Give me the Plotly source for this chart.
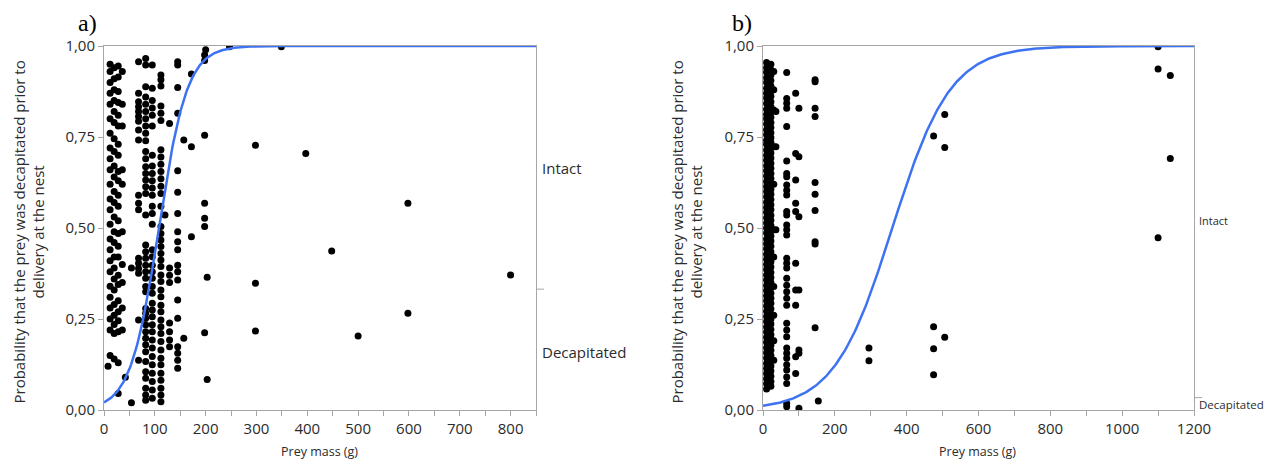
import numpy as np
import plotly.graph_objects as go

# ---------------- panel a: prey mass (g) vs. plotted position ----------------
a_mass = [8, 12, 20, 28, 36, 42, 54, 68, 82, 95, 112, 120, 129, 145, 157, 172,
          198, 200, 203, 247, 298, 349, 397, 448, 500, 598, 800]
a_prob = [
    [0.12],
    [0.95, 0.93, 0.90, 0.87, 0.84, 0.80, 0.76, 0.72, 0.69, 0.66, 0.62, 0.58, 0.55, 0.51,
     0.47, 0.44, 0.41, 0.38, 0.34, 0.31, 0.28, 0.25, 0.22, 0.15],
    [0.94, 0.91, 0.88, 0.85, 0.82, 0.79, 0.745, 0.71, 0.67, 0.64, 0.60, 0.57, 0.53, 0.49,
     0.46, 0.42, 0.39, 0.36, 0.33, 0.29, 0.26, 0.235, 0.21, 0.14],
    [0.945, 0.915, 0.875, 0.845, 0.81, 0.78, 0.73, 0.70, 0.655, 0.63, 0.59, 0.56, 0.52,
     0.485, 0.45, 0.42, 0.37, 0.345, 0.30, 0.27, 0.245, 0.215, 0.13, 0.045],
    [0.93, 0.84, 0.78, 0.66, 0.62, 0.49, 0.40, 0.35, 0.28, 0.22],
    [0.09],
    [0.39, 0.02],
    [0.957, 0.87, 0.847, 0.833, 0.82, 0.806, 0.793, 0.769, 0.742, 0.59, 0.568, 0.55,
     0.417, 0.403, 0.389, 0.376, 0.247, 0.137],
    [0.966, 0.948, 0.888, 0.86, 0.84, 0.82, 0.80, 0.78, 0.76, 0.74, 0.71, 0.69, 0.668,
     0.65, 0.632, 0.613, 0.595, 0.536, 0.453, 0.435, 0.417, 0.398, 0.38, 0.362, 0.339,
     0.325, 0.279, 0.266, 0.252, 0.234, 0.215, 0.197, 0.179, 0.16, 0.133, 0.105, 0.087,
     0.06, 0.041, 0.027],
    [0.948, 0.884, 0.85, 0.83, 0.81, 0.78, 0.70, 0.67, 0.65, 0.63, 0.61, 0.59, 0.56, 0.54,
     0.51, 0.44, 0.421, 0.398, 0.38, 0.362, 0.339, 0.321, 0.293, 0.275, 0.256, 0.234,
     0.215, 0.192, 0.17, 0.147, 0.124, 0.101, 0.078, 0.055, 0.032],
    [0.92, 0.907, 0.89, 0.835, 0.815, 0.795, 0.715, 0.695, 0.675, 0.655, 0.635, 0.615,
     0.595, 0.56, 0.504, 0.485, 0.467, 0.449, 0.43, 0.412, 0.394, 0.371, 0.353, 0.33,
     0.311, 0.288, 0.27, 0.247, 0.229, 0.21, 0.188, 0.165, 0.142, 0.124, 0.101, 0.082,
     0.06, 0.041, 0.023],
    [0.536],
    [0.787, 0.39, 0.37, 0.35, 0.239, 0.215, 0.192, 0.174],
    [0.957, 0.948, 0.886, 0.815, 0.657, 0.598, 0.54, 0.49, 0.462, 0.44, 0.398, 0.38,
     0.357, 0.302, 0.252, 0.174, 0.156, 0.137, 0.115],
    [0.742, 0.197],
    [0.923, 0.723, 0.476],
    [0.96, 0.975, 0.755, 0.568, 0.527, 0.504, 0.212],
    [0.99],
    [0.365, 0.084],
    [0.998],
    [0.727, 0.348, 0.217],
    [0.998],
    [0.705],
    [0.437],
    [0.203],
    [0.568, 0.266],
    [0.371],
]

# ---------------- panel b ----------------
b_mass = [10, 22, 30, 36, 66, 91, 100, 145, 154, 295, 475, 506, 1100, 1134]
b_prob = [
    [0.955, 0.94, 0.928, 0.913, 0.9, 0.884, 0.87, 0.857, 0.842, 0.826, 0.812, 0.8, 0.786,
     0.77, 0.756, 0.741, 0.73, 0.714, 0.7, 0.686, 0.671, 0.657, 0.643, 0.628, 0.614, 0.6,
     0.586, 0.571, 0.556, 0.543, 0.528, 0.514, 0.5, 0.486, 0.47, 0.457, 0.443, 0.428,
     0.414, 0.4, 0.386, 0.371, 0.357, 0.342, 0.328, 0.314, 0.3, 0.286, 0.271, 0.257,
     0.243, 0.228, 0.214, 0.2, 0.186, 0.171, 0.157, 0.143, 0.128, 0.114, 0.1, 0.086,
     0.072, 0.058],
    [0.95, 0.935, 0.92, 0.905, 0.89, 0.876, 0.862, 0.847, 0.833, 0.818, 0.804, 0.79,
     0.776, 0.762, 0.748, 0.735, 0.72, 0.706, 0.692, 0.678, 0.664, 0.65, 0.636, 0.62,
     0.606, 0.593, 0.578, 0.564, 0.55, 0.535, 0.521, 0.507, 0.492, 0.478, 0.464, 0.45,
     0.435, 0.421, 0.407, 0.393, 0.378, 0.364, 0.35, 0.335, 0.321, 0.307, 0.293, 0.278,
     0.264, 0.25, 0.236, 0.221, 0.207, 0.193, 0.178, 0.164, 0.15, 0.136, 0.121, 0.107,
     0.093, 0.078, 0.065],
    [0.93, 0.88, 0.824, 0.723, 0.62, 0.495, 0.42, 0.339, 0.26, 0.19, 0.137],
    [0.82, 0.723, 0.495],
    [0.927, 0.856, 0.843, 0.829, 0.779, 0.684, 0.65, 0.641, 0.618, 0.604, 0.591, 0.545,
     0.536, 0.508, 0.495, 0.481, 0.417, 0.403, 0.39, 0.362, 0.343, 0.325, 0.307, 0.288,
     0.238, 0.22, 0.201, 0.17, 0.156, 0.142, 0.124, 0.11, 0.091, 0.073, 0.018, 0.009],
    [0.87, 0.705, 0.632, 0.568, 0.545, 0.403, 0.33, 0.288, 0.146, 0.1],
    [0.829, 0.696, 0.531, 0.33, 0.165, 0.156, 0.005],
    [0.907, 0.902, 0.829, 0.806, 0.625, 0.593, 0.548, 0.462, 0.456, 0.226],
    [0.025],
    [0.17, 0.135],
    [0.753, 0.229, 0.168, 0.097],
    [0.812, 0.721, 0.2],
    [0.998, 0.937, 0.473],
    [0.919, 0.691],
]

# fitted logistic curves: p = 1 / (1 + exp(-(b0 + b1 * mass)))
a_b0, a_b1 = -3.85, 0.0357
b_b0, b_b1 = -4.45, 0.01236

y_ticks = [0, 0.25, 0.5, 0.75, 1.0]
y_ticktext = ["0,00", "0,25", "0,50", "0,75", "1,00"]

Y_TITLE = "Probability that the prey was decapitated prior to<br>delivery at the nest"
FONT = "Open Sans"
AXIS_GREY = "#a6a6a6"
TEXT = "#2b2b2b"
CURVE = "#3d72f2"


def expand(masses, probs):
    xs, ys = [], []
    for m, ps in zip(masses, probs):
        xs.extend([m] * len(ps))
        ys.extend(ps)
    return xs, ys


def logistic(x, b0, b1):
    return 1.0 / (1.0 + np.exp(-(b0 + b1 * x)))


fig = go.Figure()

ax, ay = expand(a_mass, a_prob)
bx, by = expand(b_mass, b_prob)

fig.add_trace(go.Scatter(x=ax, y=ay, mode="markers", xaxis="x", yaxis="y",
                         marker=dict(color="black", size=7), showlegend=False))
xa = np.linspace(0, 850, 400)
fig.add_trace(go.Scatter(x=xa, y=logistic(xa, a_b0, a_b1), mode="lines", xaxis="x", yaxis="y",
                         line=dict(color=CURVE, width=2.5), showlegend=False))

fig.add_trace(go.Scatter(x=bx, y=by, mode="markers", xaxis="x2", yaxis="y2",
                         marker=dict(color="black", size=7), showlegend=False))
xb = np.linspace(0, 1200, 400)
fig.add_trace(go.Scatter(x=xb, y=logistic(xb, b_b0, b_b1), mode="lines", xaxis="x2", yaxis="y2",
                         line=dict(color=CURVE, width=2.5), showlegend=False))

W, H = 1276, 466


def px(x):
    return x / W


def py(y):
    return (H - y) / H


common_x = dict(showline=True, linecolor=AXIS_GREY, linewidth=1, mirror=True,
                ticks="outside", ticklen=5, tickcolor=AXIS_GREY, showgrid=False,
                zeroline=False, automargin=False,
                tickfont=dict(family=FONT, size=15, color=TEXT))
common_y = dict(showline=True, linecolor=AXIS_GREY, linewidth=1, mirror=True,
                ticks="outside", ticklen=5, tickcolor=AXIS_GREY, showgrid=False,
                zeroline=False, automargin=False, range=[0, 1], tickvals=y_ticks,
                ticktext=y_ticktext, tickfont=dict(family=FONT, size=15, color=TEXT))

fig.update_layout(
    width=W, height=H, margin=dict(l=0, r=0, t=0, b=0, autoexpand=False),
    paper_bgcolor="white", plot_bgcolor="white",
    xaxis=dict(domain=[px(104), px(536)], range=[0, 850], tick0=0, dtick=100,
               minor=dict(dtick=50, ticks="outside", ticklen=5, tickcolor=AXIS_GREY),
               anchor="y", **common_x),
    yaxis=dict(domain=[py(410), py(46)], anchor="x", **common_y),
    xaxis2=dict(domain=[px(763), px(1194)], range=[0, 1200], tick0=0, dtick=200,
                minor=dict(dtick=100, ticks="outside", ticklen=5, tickcolor=AXIS_GREY),
                anchor="y2", **common_x),
    yaxis2=dict(domain=[py(410), py(46)], anchor="x2", **common_y),
)

annotations = [
    dict(text="a)", x=px(76), y=py(23), xref="paper", yref="paper", xanchor="left",
         yanchor="middle", showarrow=False,
         font=dict(family="Liberation Serif", size=24, color="black")),
    dict(text="b)", x=px(730), y=py(23), xref="paper", yref="paper", xanchor="left",
         yanchor="middle", showarrow=False,
         font=dict(family="Liberation Serif", size=24, color="black")),
    dict(text=Y_TITLE, x=px(28.5), y=py(232), xref="paper", yref="paper", textangle=-90,
         showarrow=False, xanchor="center", yanchor="middle",
         font=dict(family=FONT, size=15, color=TEXT)),
    dict(text=Y_TITLE, x=px(686.5), y=py(232), xref="paper", yref="paper", textangle=-90,
         showarrow=False, xanchor="center", yanchor="middle",
         font=dict(family=FONT, size=15, color=TEXT)),
    dict(text="Prey mass (g)", x=px(320), y=py(451), xref="paper", yref="paper",
         xanchor="center", yanchor="middle",
         showarrow=False, font=dict(family=FONT, size=12.5, color=TEXT)),
    dict(text="Prey mass (g)", x=px(978), y=py(451), xref="paper", yref="paper",
         xanchor="center", yanchor="middle",
         showarrow=False, font=dict(family=FONT, size=12.5, color=TEXT)),
    dict(text="Intact", x=px(540), y=0.665, xref="paper", yref="y", xanchor="left",
         yanchor="middle", showarrow=False, font=dict(family=FONT, size=15, color=TEXT)),
    dict(text="Decapitated", x=px(540), y=0.16, xref="paper", yref="y", xanchor="left",
         yanchor="middle", showarrow=False, font=dict(family=FONT, size=15, color=TEXT)),
    dict(text="Intact", x=px(1197), y=0.52, xref="paper", yref="y2", xanchor="left",
         yanchor="middle", showarrow=False, font=dict(family=FONT, size=11, color=TEXT)),
    dict(text="Decapitated", x=px(1197), y=0.016, xref="paper", yref="y2", xanchor="left",
         yanchor="middle", showarrow=False, font=dict(family=FONT, size=11.5, color=TEXT)),
]
fig.update_layout(annotations=annotations)

# response-level boundary ticks on the right-hand category axis
fig.add_shape(type="line", xref="paper", yref="y", x0=px(536), x1=px(544), y0=0.332, y1=0.332,
              line=dict(color=AXIS_GREY, width=1))
fig.add_shape(type="line", xref="paper", yref="y2", x0=px(1194), x1=px(1202), y0=0.034, y1=0.034,
              line=dict(color=AXIS_GREY, width=1))

fig.write_html("out.html")
